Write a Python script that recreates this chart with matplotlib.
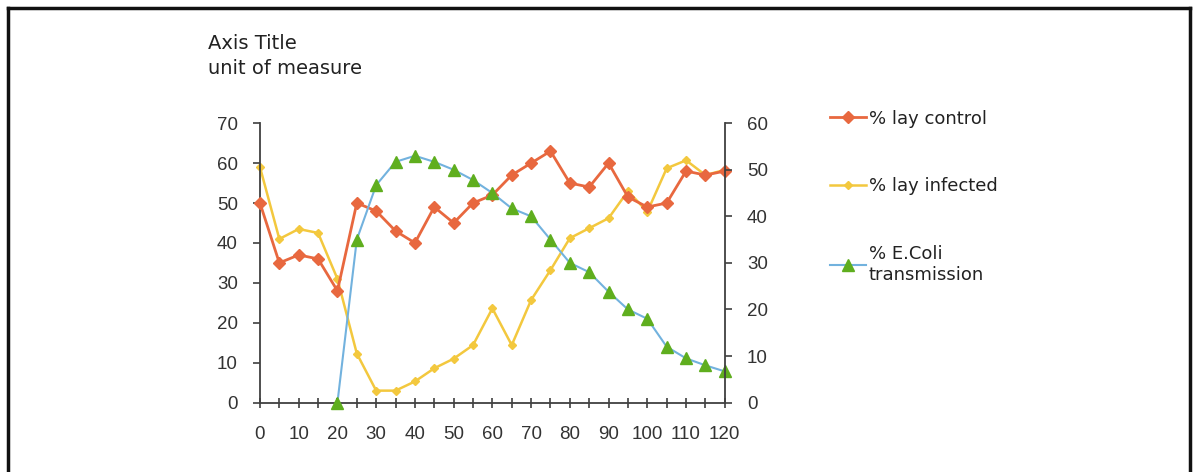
import matplotlib.pyplot as plt
from matplotlib.lines import Line2D

plt.rcParams['font.family'] = ['Liberation Sans', 'DejaVu Sans']

# datos
dias = list(range(0, 121, 5))
lay_control = [50, 35, 37, 36, 28, 50, 48, 43, 40, 49, 45, 50, 52, 57, 60, 63,
               55, 54, 60, 51.5, 49, 50, 58, 57, 58]
lay_infected = [59, 41, 43.5, 42.5, 31, 12.3, 3, 3, 5.3, 8.6, 11, 14.4, 23.6, 14.4,
                25.7, 33.2, 41.2, 43.7, 46.2, 53, 47.8, 58.7, 60.7, 57, 58.3]
dias_ecoli = list(range(20, 121, 5))
ecoli = [0, 35, 46.7, 51.7, 53, 51.7, 50, 47.8, 45, 41.7, 40, 35, 30, 28, 23.8,
         20, 18, 12, 9.5, 8, 6.7]

rojo = '#E8683F'
amarillo = '#F3C83E'
verde = '#5FAE1E'
azul = '#72B2DE'
gris = '#404040'

fig = plt.figure(figsize=(11.98, 4.72), dpi=100)
ax = fig.add_axes([0.217, 0.147, 0.388, 0.592])
ax2 = ax.twinx()

ax.plot(dias, lay_control, color=rojo, lw=2, marker='D', ms=6.5, zorder=3,
        clip_on=False)
ax.plot(dias, lay_infected, color=amarillo, lw=1.8, marker='D', ms=4.5, zorder=2,
        clip_on=False)
ax2.plot(dias_ecoli, ecoli, color=azul, lw=1.5, marker='^', ms=9,
         mfc=verde, mec=verde, zorder=2, clip_on=False)

ax.set_xlim(0, 120)
ax.set_ylim(0, 70)
ax2.set_ylim(0, 60)
ax.set_xticks(range(0, 121, 10))
ax.set_xticks(range(0, 121, 5), minor=True)
ax.set_yticks(range(0, 71, 10))
ax2.set_yticks(range(0, 61, 10))

for a in (ax, ax2):
    a.spines['top'].set_visible(False)
    for s in a.spines.values():
        s.set_color(gris)
        s.set_linewidth(1.3)
    a.tick_params(which='both', direction='out', length=5, width=1.2,
                  colors=gris, labelcolor='#333333', labelsize=13.5, pad=6)
ax.spines['right'].set_visible(False)
ax2.spines['left'].set_visible(False)
ax2.spines['bottom'].set_visible(False)
ax.tick_params(axis='x', which='both', direction='inout', length=7, pad=13)
ax.tick_params(axis='y', pad=11)
ax2.tick_params(axis='y', pad=11)

fig.text(0.174, 0.907, 'Axis Title', fontsize=14, color='#222222', va='center',
         family='DejaVu Sans')
fig.text(0.174, 0.855, 'unit of measure', fontsize=14, color='#222222', va='center',
         family='DejaVu Sans')

handles = [
    Line2D([], [], color=rojo, lw=2, marker='D', ms=6.5),
    Line2D([], [], color=amarillo, lw=1.8, marker='D', ms=4.5),
    Line2D([], [], color=azul, lw=1.5, marker='^', ms=9, mfc=verde, mec=verde),
]
labels = ['% lay control', '% lay infected', '% E.Coli\ntransmission']
fig.legend(handles, labels, loc='upper left', bbox_to_anchor=(0.679, 0.802),
           frameon=False, labelspacing=2.75, handlelength=2.0,
           handletextpad=0.15, labelcolor='#222222',
           prop={'family': 'DejaVu Sans', 'size': 13})

# marco de la figura
for xs, ys in (([0.007, 0.007], [0, 0.983]), ([0.007, 0.993], [0.983, 0.983]),
               ([0.993, 0.993], [0, 0.983])):
    fig.add_artist(Line2D(xs, ys, color='#111111', lw=2.5,
                          transform=fig.transFigure))

fig.savefig('out.png', dpi=100)
